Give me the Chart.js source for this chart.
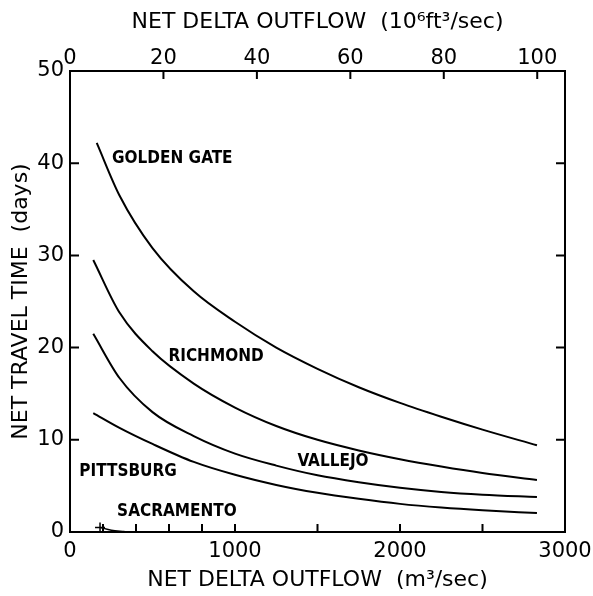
<!DOCTYPE html>
<html>
<head>
<meta charset="utf-8">
<script src="https://cdn.jsdelivr.net/npm/chart.js@4"></script>
<style>
  body { margin: 0; background: #fff; }
  #wrap { width: 593px; height: 596px; }
</style>
</head>
<body>
<div id="wrap"><canvas id="chart"></canvas></div>
<script>
// flows in m3/sec, travel time in days
const ggFlow = [162, 300, 500, 750, 1000, 1250, 1500, 1750, 2000, 2250, 2500, 2830];
const ggDays = [42.2, 36.5, 30.8, 26.1, 22.8, 20.0, 17.7, 15.7, 14.0, 12.5, 11.1, 9.4];

const richFlow = [141, 300, 500, 750, 1000, 1250, 1500, 1750, 2000, 2250, 2500, 2830];
const richDays = [29.5, 23.8, 19.6, 16.1, 13.5, 11.5, 10.0, 8.85, 7.9, 7.1, 6.4, 5.65];

const valFlow = [141, 300, 500, 750, 1000, 1250, 1500, 1750, 2000, 2250, 2500, 2830];
const valDays = [21.5, 16.7, 13.0, 10.4, 8.5, 7.2, 6.15, 5.4, 4.8, 4.35, 4.05, 3.8];

const pittFlow = [141, 300, 500, 750, 1000, 1250, 1500, 1750, 2000, 2250, 2500, 2830];
const pittDays = [12.9, 11.3, 9.55, 7.6, 6.2, 5.1, 4.25, 3.6, 3.05, 2.65, 2.35, 2.05];

const sacFlow = [182, 250, 330];
const sacDays = [0.5, 0.2, 0.05];

// axis ticks
const bottomTicks = [0, 1000, 2000, 3000];
const bottomMinor = [200, 400, 600, 800, 1500, 2500];
const topTicks = [0, 20, 40, 60, 80, 100];
const leftTicks = [0, 10, 20, 30, 40, 50];

// curve names and where they are written (m3/sec, days)
const labelNames = ['GOLDEN GATE', 'RICHMOND', 'VALLEJO', 'PITTSBURG', 'SACRAMENTO'];
const labelFlow = [620, 885, 1594, 352, 648];
const labelDays = [40.5, 19.0, 7.6, 6.6, 2.2];

const M3_TO_KFT3 = 35.3147 / 1000; // 10^3 ft3 per m3

const FONT = "'DejaVu Sans'";

function pts(xs, ys) {
    return xs.map((x, i) => ({ x: x, y: ys[i] }));
}

function curve(xs, ys) {
    return {
        data: pts(xs, ys),
        borderColor: '#000',
        borderWidth: 2,
        pointRadius: 0,
        fill: false,
        cubicInterpolationMode: 'monotone'
    };
}

// inward tick marks + curve names
const inwardTicks = {
    id: 'inwardTicks',
    afterDraw(chart) {
        const ctx = chart.ctx;
        const a = chart.chartArea;
        const sx = chart.scales.x, sx2 = chart.scales.x2, sy = chart.scales.y;
        ctx.save();
        ctx.strokeStyle = '#000';
        ctx.lineWidth = 2;
        ctx.beginPath();
        bottomTicks.concat(bottomMinor).forEach(v => {
            const px = sx.getPixelForValue(v);
            ctx.moveTo(px, a.bottom);
            ctx.lineTo(px, a.bottom - 8);
        });
        topTicks.forEach(v => {
            const px = sx2.getPixelForValue(v);
            ctx.moveTo(px, a.top);
            ctx.lineTo(px, a.top + 8);
        });
        leftTicks.slice(1, -1).forEach(v => {
            const py = sy.getPixelForValue(v);
            ctx.moveTo(a.left, py);
            ctx.lineTo(a.left + 9, py);
            ctx.moveTo(a.right, py);
            ctx.lineTo(a.right - 9, py);
        });
        ctx.stroke();

        ctx.fillStyle = '#000';
        ctx.font = "bold 17px 'DejaVu Sans Condensed', 'DejaVu Sans'";
        ctx.textAlign = 'center';
        ctx.textBaseline = 'middle';
        labelNames.forEach((t, i) => {
            ctx.fillText(t, sx.getPixelForValue(labelFlow[i]), sy.getPixelForValue(labelDays[i]));
        });
        ctx.restore();
    }
};

const tickFont = { family: FONT, size: 21 };
const titleFont = { family: FONT, size: 22 };
const plain = v => String(v);

const sacSet = curve(sacFlow, sacDays);
sacSet.borderWidth = 1.5;
sacSet.pointStyle = 'cross';
sacSet.pointRadius = [5, 0, 0];
sacSet.pointBorderColor = '#000';
sacSet.pointBorderWidth = 1.5;

new Chart(document.getElementById('chart'), {
    type: 'line',
    data: {
        datasets: [
            curve(ggFlow, ggDays),
            curve(richFlow, richDays),
            curve(valFlow, valDays),
            curve(pittFlow, pittDays),
            sacSet
        ]
    },
    options: {
        responsive: true,
        maintainAspectRatio: false,
        animation: false,
        layout: { padding: 0 },
        plugins: {
            legend: { display: false },
            tooltip: { enabled: false }
        },
        scales: {
            x: {
                type: 'linear',
                position: 'bottom',
                min: 0,
                max: 3000,
                afterBuildTicks: s => { s.ticks = bottomTicks.map(v => ({ value: v })); },
                afterFit: s => { s.height = 64; s.paddingLeft = 0; s.paddingRight = 0; },
                ticks: { font: tickFont, color: '#000', padding: 7, maxRotation: 0, callback: plain },
                grid: { drawOnChartArea: false, drawTicks: false },
                border: { color: '#000', width: 2 },
                title: {
                    display: true,
                    text: 'NET DELTA OUTFLOW  (m³/sec)',
                    font: titleFont,
                    color: '#000',
                    padding: { top: 0, bottom: 3 }
                }
            },
            x2: {
                type: 'linear',
                position: 'top',
                min: 0,
                max: 3000 * M3_TO_KFT3,
                afterBuildTicks: s => { s.ticks = topTicks.map(v => ({ value: v })); },
                afterFit: s => { s.height = 71; s.paddingLeft = 0; s.paddingRight = 0; },
                ticks: { font: tickFont, color: '#000', padding: 0, maxRotation: 0, callback: plain },
                grid: { drawOnChartArea: false, drawTicks: false },
                border: { color: '#000', width: 2 },
                title: {
                    display: true,
                    text: 'NET DELTA OUTFLOW  (10⁶ft³/sec)',
                    font: titleFont,
                    color: '#000',
                    padding: { top: 9, bottom: 0 }
                }
            },
            y: {
                type: 'linear',
                position: 'left',
                min: 0,
                max: 50,
                afterBuildTicks: s => { s.ticks = leftTicks.map(v => ({ value: v })); },
                afterFit: s => { s.width = 70; s.paddingTop = 0; s.paddingBottom = 0; },
                ticks: { font: tickFont, color: '#000', padding: 6, callback: plain },
                grid: { drawOnChartArea: false, drawTicks: false },
                border: { color: '#000', width: 2 },
                title: {
                    display: true,
                    text: 'NET TRAVEL TIME  (days)',
                    font: titleFont,
                    color: '#000',
                    padding: { top: 8, bottom: 0 }
                }
            },
            y2: {
                type: 'linear',
                position: 'right',
                min: 0,
                max: 50,
                afterFit: s => { s.width = 28; },
                ticks: { display: false },
                grid: { drawOnChartArea: false, drawTicks: false },
                border: { color: '#000', width: 2 }
            }
        }
    },
    plugins: [inwardTicks]
});
</script>
</body>
</html>
